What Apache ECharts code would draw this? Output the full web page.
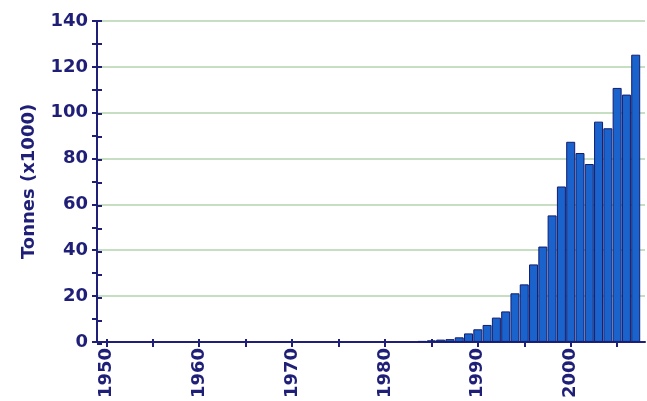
<!DOCTYPE html>
<html>
<head>
<meta charset="utf-8">
<script src="https://cdn.jsdelivr.net/npm/echarts@6/dist/echarts.min.js"></script>
<style>
  html, body { margin: 0; padding: 0; background: #fff; }
  #chart { width: 647px; height: 401px; }
</style>
</head>
<body>
<div id="chart"></div>
<script>
// years on the axis (1949 and 2008 are just padding at the ends)
const years = []
for (let y = 1949; y <= 2008; y++) years.push(String(y))

// tonnes (x1000), 1984 - 2007
const firstYear = 1984
const tonnes = [0.4, 0.7, 1, 1.2, 2, 3.7, 5.5, 7.4, 10.6, 13.3, 21.2, 25.1, 33.8, 41.6, 55.2, 67.8,
  87.3, 82.4, 77.6, 96.1, 93.2, 110.8, 107.9, 125.3]

const yTicks = [0, 20, 40, 60, 80, 100, 120, 140]

// one value per category, null before production started
const values = years.map((y) => {
  const i = Number(y) - firstYear
  return i >= 0 && i < tonnes.length ? tonnes[i] : null
})

const navy = "#1f1f78"
const font = "DejaVu Sans"
const tickStyle = { color: navy, width: 2 }
const gridBox = { left: 97, right: 2, top: 21, bottom: 57 }
const everyFive = (i, v) => Number(v) % 5 === 0

const chart = echarts.init(document.getElementById("chart"))

const option = {
  animation: false,
  // second grid sits on top of the first one, it only draws the inner half of the ticks
  grid: [gridBox, gridBox],
  xAxis: [
    {
      type: "category",
      gridIndex: 0,
      data: years,
      boundaryGap: false,
      position: "bottom",
      axisLine: { lineStyle: { color: navy, width: 2 } },
      axisTick: { length: 5, lineStyle: tickStyle, interval: everyFive },
      axisLabel: {
        rotate: 90,
        margin: 6,
        color: navy,
        fontFamily: font,
        fontWeight: "bold",
        fontSize: 18,
        interval: (i, v) => Number(v) % 10 === 0
      },
      splitLine: { show: false }
    },
    {
      type: "category",
      gridIndex: 1,
      data: years,
      boundaryGap: false,
      position: "bottom",
      axisLine: { show: false },
      axisTick: { show: true, inside: true, length: 5, lineStyle: tickStyle, interval: everyFive },
      axisLabel: { show: false },
      splitLine: { show: false }
    }
  ],
  yAxis: [
    {
      type: "value",
      gridIndex: 0,
      min: yTicks[0],
      max: yTicks[yTicks.length - 1],
      interval: 20,
      name: "Tonnes (x1000)",
      nameLocation: "middle",
      nameGap: 59,
      nameTextStyle: { color: navy, fontFamily: font, fontWeight: "bold", fontSize: 18 },
      axisLine: { show: true, lineStyle: { color: navy, width: 2 } },
      axisTick: { show: true, length: 5, lineStyle: tickStyle },
      minorTick: { show: true, splitNumber: 2, length: 5, lineStyle: tickStyle },
      axisLabel: {
        margin: 9,
        color: navy,
        fontFamily: font,
        fontWeight: "bold",
        fontSize: 18
      },
      splitLine: { show: true, lineStyle: { color: "#b3d3ac", width: 1.5 } }
    },
    {
      type: "value",
      gridIndex: 1,
      position: "left",
      min: yTicks[0],
      max: yTicks[yTicks.length - 1],
      interval: 20,
      axisLine: { show: false },
      axisTick: { show: true, inside: true, length: 5, lineStyle: tickStyle },
      minorTick: { show: true, splitNumber: 2, length: 5, lineStyle: tickStyle },
      axisLabel: { show: false },
      splitLine: { show: false }
    }
  ],
  series: [
    {
      type: "bar",
      xAxisIndex: 0,
      yAxisIndex: 0,
      data: values,
      barWidth: 9,
      itemStyle: { color: "#1a63cc", borderColor: "#131d6e", borderWidth: 1 }
    },
    {
      // empty series so the overlay grid is laid out
      type: "line",
      xAxisIndex: 1,
      yAxisIndex: 1,
      data: [],
      silent: true
    }
  ]
}

chart.setOption(option)
</script>
</body>
</html>
